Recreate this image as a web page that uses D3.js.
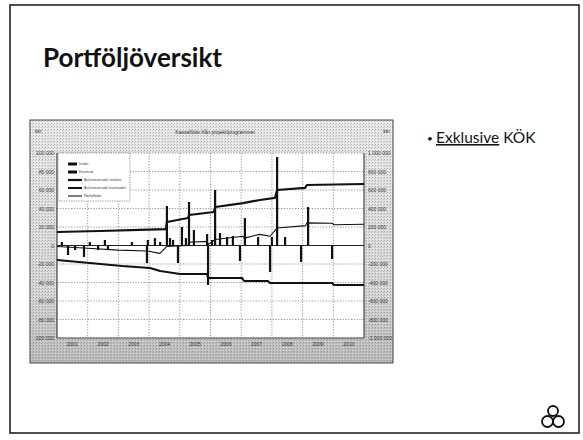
<!DOCTYPE html>
<html>
<head>
<meta charset="utf-8">
<script src="https://cdn.jsdelivr.net/npm/d3@7"></script>
<style>
  html, body { margin: 0; padding: 0; background: #fff; }
  svg { display: block; }
</style>
</head>
<body>
<svg id="slide" width="583" height="440"></svg>
<script>
// ---- chart data (kkr) ----
const years = ["2001", "2002", "2003", "2004", "2005", "2006", "2007", "2008", "2009", "2010"];
const leftTicks = [100000, 80000, 60000, 40000, 20000, 0, -20000, -40000, -60000, -80000, -100000];
const leftTickLabels = ["100 000", "80 000", "60 000", "40 000", "20 000", "0", "-20 000", "-40 000", "-60 000", "-80 000", "-100 000"];
const rightTicks = [1000000, 800000, 600000, 400000, 200000, 0, -200000, -400000, -600000, -800000, -1000000];
const rightTickLabels = ["1 000 000", "800 000", "600 000", "400 000", "200 000", "0", "-200 000", "-400 000", "-600 000", "-800 000", "-1 000 000"];
const legendLabels = ["Intäkt", "Kostnad", "Ackumulerade intäkter", "Ackumulerade kostnader", "Nettoflöde"];

// single payments, position in years from start of 2001
const inflowTimes  = [0.16, 1.07, 1.56, 2.44, 2.96, 3.19, 3.36, 3.58, 3.68, 3.78, 4.07, 4.20, 4.30, 4.46, 4.89, 5.05, 5.15, 5.31, 5.54, 5.73, 6.12, 6.55, 7.00, 7.17, 7.43, 8.18];
const inflowValues = [3800, 3800, 6000, 3800, 6000, 8000, 3800, 42700, 8000, 6000, 20000, 8000, 47000, 16800, 12400, 6000, 60000, 13500, 9200, 10300, 29700, 9200, 9200, 95700, 9200, 41600];
const outflowTimes  = [0.36, 0.59, 0.88, 1.34, 1.66, 2.93, 3.94, 4.92, 5.96, 6.94, 7.95, 8.96];
const outflowValues = [-10300, -4900, -12400, -4900, -4900, -18900, -18900, -42700, -16800, -28600, -17800, -14600];

// cumulative series (right axis)
const cumInTimes  = [0, 1.40, 2.70, 3.55, 3.58, 4.27, 4.30, 5.11, 5.15, 6.06, 6.61, 7.10, 7.17, 8.08, 8.14, 10];
const cumInValues = [146000, 157000, 168000, 178000, 254000, 297000, 330000, 362000, 416000, 459000, 492000, 514000, 600000, 622000, 654000, 665000];
const cumOutTimes  = [0, 1.07, 2.12, 3.03, 3.36, 4.01, 4.89, 4.92, 6.03, 6.09, 6.87, 6.94, 8.96, 9.02, 10];
const cumOutValues = [-157000, -189000, -222000, -243000, -276000, -308000, -308000, -351000, -351000, -384000, -384000, -405000, -405000, -427000, -427000];
const netTimes  = [0, 1.0, 2.0, 2.95, 3.35, 3.58, 4.27, 4.30, 4.90, 4.92, 5.15, 6.05, 6.10, 6.60, 6.94, 7.17, 8.10, 8.14, 8.96, 9.02, 10];
const netValues = [-10000, -30000, -50000, -60000, -85000, -10000, 0, 35000, 45000, 10000, 65000, 100000, 80000, 120000, 100000, 190000, 215000, 245000, 240000, 225000, 230000];

const svg = d3.select("#slide");
const defs = svg.append("defs");

// ---- slide frame, heading, bullet ----
svg.append("rect").attr("x", 10).attr("y", 5).attr("width", 569).attr("height", 428)
  .attr("fill", "#fff").attr("stroke", "#222").attr("stroke-width", 1.6);

svg.append("text").attr("x", 43).attr("y", 67)
  .attr("font-family", "Lato, 'Open Sans', sans-serif").attr("font-weight", 700)
  .attr("font-size", 26).attr("fill", "#111").text("Portföljöversikt");

const bullet = svg.append("text").attr("x", 427).attr("y", 143)
  .attr("font-family", "Lato, 'Open Sans', sans-serif").attr("font-size", 15.5).attr("fill", "#111");
bullet.append("tspan").text("•").attr("font-size", 10).attr("dy", -1);
bullet.append("tspan").attr("x", 436).attr("dy", 1).attr("text-decoration", "underline").text("Exklusive");
bullet.append("tspan").text(" KÖK");

// logo: three interlaced rings
const logo = svg.append("g").attr("fill", "none").attr("stroke", "#111").attr("stroke-width", 1.8);
[[553, 411, 5], [547.5, 421.5, 5.5], [558.5, 421.5, 5.5]].forEach(c => {
  logo.append("circle").attr("cx", c[0]).attr("cy", c[1]).attr("r", c[2]);
});

// ---- embedded chart ----
const frame = { x: 30, y: 120, w: 363, h: 243 };
const plot = { left: 57, right: 364, top: 153, bottom: 338 };

const grad = defs.append("linearGradient").attr("id", "bg").attr("x1", 0).attr("y1", 0).attr("x2", 0).attr("y2", 1);
grad.append("stop").attr("offset", "0%").attr("stop-color", "#e9e9e9");
grad.append("stop").attr("offset", "70%").attr("stop-color", "#d6d6d6");
grad.append("stop").attr("offset", "100%").attr("stop-color", "#b9b9b9");
const pat = defs.append("pattern").attr("id", "grain").attr("width", 3).attr("height", 3)
  .attr("patternUnits", "userSpaceOnUse");
pat.append("rect").attr("x", 0).attr("y", 0).attr("width", 1).attr("height", 1).attr("fill", "#666");
pat.append("rect").attr("x", 2).attr("y", 1).attr("width", 1).attr("height", 1).attr("fill", "#999");
pat.append("rect").attr("x", 1).attr("y", 2).attr("width", 1).attr("height", 1).attr("fill", "#fff");

svg.append("rect").attr("x", frame.x).attr("y", frame.y).attr("width", frame.w).attr("height", frame.h)
  .attr("fill", "url(#bg)");
svg.append("rect").attr("x", frame.x).attr("y", frame.y).attr("width", frame.w).attr("height", frame.h)
  .attr("fill", "url(#grain)").attr("opacity", 0.45);
svg.append("rect").attr("x", frame.x).attr("y", frame.y).attr("width", frame.w).attr("height", frame.h)
  .attr("fill", "none").attr("stroke", "#444").attr("stroke-width", 1);

const x = d3.scaleLinear().domain([0, years.length]).range([plot.left, plot.right]);
const yL = d3.scaleLinear().domain([-100000, 100000]).range([plot.bottom, plot.top]);
const yR = d3.scaleLinear().domain([-1000000, 1000000]).range([plot.bottom, plot.top]);

svg.append("rect").attr("x", plot.left).attr("y", plot.top)
  .attr("width", plot.right - plot.left).attr("height", plot.bottom - plot.top).attr("fill", "#fff");

// grid
const grid = svg.append("g").attr("stroke", "#777").attr("stroke-width", 0.8).attr("stroke-dasharray", "1.2,1.6");
d3.range(1, years.length).forEach(i => {
  grid.append("line").attr("x1", x(i)).attr("x2", x(i)).attr("y1", plot.top).attr("y2", plot.bottom);
});
leftTicks.forEach(v => {
  grid.append("line").attr("x1", plot.left).attr("x2", plot.right).attr("y1", yL(v)).attr("y2", yL(v));
});

// plot border and zero line
const border = svg.append("g").attr("stroke", "#222").attr("stroke-width", 1);
border.append("line").attr("x1", plot.left).attr("x2", plot.left).attr("y1", plot.top).attr("y2", plot.bottom);
border.append("line").attr("x1", plot.right).attr("x2", plot.right).attr("y1", plot.top).attr("y2", plot.bottom);
border.append("line").attr("x1", plot.left).attr("x2", plot.right).attr("y1", plot.bottom).attr("y2", plot.bottom).attr("stroke", "#555");
border.append("line").attr("x1", plot.left).attr("x2", plot.right).attr("y1", yL(0)).attr("y2", yL(0));

// axes
const tickFont = "'Liberation Sans', Arial, sans-serif";
const axL = d3.axisLeft(yL).tickValues(leftTicks).tickSize(0).tickPadding(3)
  .tickFormat((d, i) => leftTickLabels[i]);
const gL = svg.append("g").attr("transform", `translate(${plot.left},0)`).call(axL);
const axR = d3.axisRight(yR).tickValues(rightTicks).tickSize(0).tickPadding(4)
  .tickFormat((d, i) => rightTickLabels[i]);
const gR = svg.append("g").attr("transform", `translate(${plot.right},0)`).call(axR);
const axB = d3.axisBottom(d3.scaleBand().domain(years).range([plot.left, plot.right]))
  .tickSize(0).tickPadding(4);
const gB = svg.append("g").attr("transform", `translate(0,${plot.bottom})`).call(axB);
[gL, gR, gB].forEach(g => {
  g.select(".domain").remove();
  g.selectAll("text").attr("font-family", tickFont).attr("font-size", 5).attr("fill", "#333");
});

// chart heading and units
svg.append("text").attr("x", 215).attr("y", 134).attr("text-anchor", "middle")
  .attr("font-family", tickFont).attr("font-size", 5).attr("fill", "#333")
  .text("Kassaflöde från projekt/programmet");
svg.append("text").attr("x", 35).attr("y", 133).attr("font-family", tickFont).attr("font-size", 5).attr("fill", "#333").text("kkr");
svg.append("text").attr("x", 390).attr("y", 133).attr("text-anchor", "end").attr("font-family", tickFont).attr("font-size", 5).attr("fill", "#333").text("kkr");

// payments as bars from zero
const bars = svg.append("g").attr("stroke", "#111").attr("stroke-width", 2.2);
inflowTimes.forEach((t, i) => {
  bars.append("line").attr("x1", x(t)).attr("x2", x(t)).attr("y1", yL(0)).attr("y2", yL(inflowValues[i]));
});
outflowTimes.forEach((t, i) => {
  bars.append("line").attr("x1", x(t)).attr("x2", x(t)).attr("y1", yL(0)).attr("y2", yL(outflowValues[i]));
});

// cumulative lines
const line = d3.line().x(d => x(d[0])).y(d => yR(d[1]));
const series = [
  { t: cumInTimes, v: cumInValues, w: 2.2 },
  { t: cumOutTimes, v: cumOutValues, w: 2.0 },
  { t: netTimes, v: netValues, w: 1.1 }
];
series.forEach(s => {
  svg.append("path").datum(s.t.map((t, i) => [t, s.v[i]]))
    .attr("d", line).attr("fill", "none").attr("stroke", "#111").attr("stroke-width", s.w)
    .attr("stroke-linejoin", "round");
});

// legend
const lg = svg.append("g");
lg.append("rect").attr("x", 58).attr("y", 153).attr("width", 72).attr("height", 48)
  .attr("fill", "#fff").attr("stroke", "#777").attr("stroke-width", 0.8).attr("stroke-dasharray", "1.2,1.2");
const swatch = [{ len: 9, w: 3 }, { len: 9, w: 3 }, { len: 14, w: 2.2 }, { len: 14, w: 2 }, { len: 14, w: 1.1 }];
legendLabels.forEach((lab, i) => {
  const yy = 164 + i * 8;
  lg.append("line").attr("x1", 68).attr("x2", 68 + swatch[i].len).attr("y1", yy).attr("y2", yy)
    .attr("stroke", "#111").attr("stroke-width", swatch[i].w);
  lg.append("text").attr("x", 69 + swatch[i].len + 1).attr("y", yy + 1.3)
    .attr("font-family", tickFont).attr("font-size", 3.8).attr("fill", "#444").text(lab);
});
</script>
</body>
</html>
